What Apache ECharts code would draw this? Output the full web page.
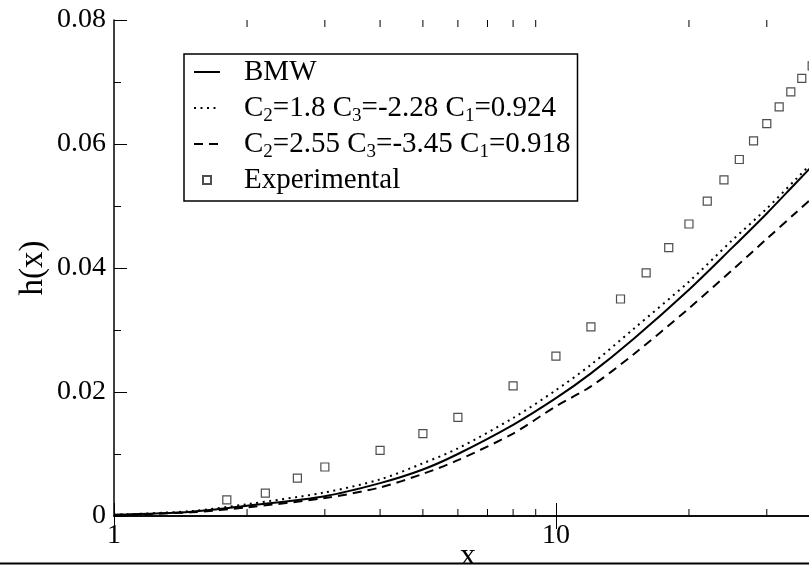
<!DOCTYPE html>
<html>
<head>
<meta charset="utf-8">
<script src="https://cdn.jsdelivr.net/npm/echarts@6/dist/echarts.min.js"></script>
<style>
  html, body { margin: 0; padding: 0; background: #fff; overflow: hidden; }
  #main { width: 840px; height: 566px; }
</style>
</head>
<body>
<div id="main"></div>
<script>
// curve abscissae and the three model curves
var curveX = [1, 1.5, 2, 3, 4, 5, 6, 8, 10, 12, 15, 20, 25, 30, 35, 40];
var bmw = [0.0002, 0.0007, 0.00166, 0.0032, 0.0053, 0.0075, 0.0100, 0.0147, 0.0190, 0.0230, 0.0286, 0.0365, 0.0432, 0.0488, 0.0538, 0.0581];
var fitA = [0.0002, 0.0008, 0.0019, 0.0038, 0.0059, 0.0085, 0.0109, 0.0158, 0.0203, 0.0244, 0.0302, 0.0378, 0.0444, 0.0496, 0.0544, 0.0586];
var fitB = [0.00015, 0.0006, 0.0014, 0.0029, 0.0046, 0.0068, 0.0090, 0.0133, 0.0177, 0.0209, 0.0261, 0.0335, 0.0396, 0.0447, 0.0490, 0.0527];

// experimental points
var expX = [1.8, 2.2, 2.6, 3, 4, 5, 6, 8, 10, 12, 14, 16, 18, 20, 22, 24, 26, 28, 30, 32, 34, 36, 38];
var expY = [0.0026, 0.0037, 0.0061, 0.0079, 0.0106, 0.0133, 0.0159, 0.0210, 0.0258, 0.0305, 0.0350, 0.0392, 0.0433, 0.0471, 0.0508, 0.0542, 0.0575, 0.0605, 0.0633, 0.0660, 0.0684, 0.0706, 0.0726];

// minor ticks of the log x axis
var minorX = [2, 3, 4, 5, 6, 7, 8, 9, 20, 30];

var names = ['BMW', 'C2=1.8 C3=-2.28 C1=0.924', 'C2=2.55 C3=-3.45 C1=0.918', 'Experimental'];

var FONT = 'Liberation Serif';

function pairs(xs, ys) {
  return xs.map(function (x, i) { return [x, ys[i]]; });
}

var chart = echarts.init(document.getElementById('main'));

var xBase = {
  type: 'log',
  logBase: 10,
  min: 1,
  max: 40,
  axisLine: { lineStyle: { color: '#000', width: 1.5 } },
  axisTick: { inside: true, length: 13, lineStyle: { color: '#000', width: 1 } },
  splitLine: { show: false }
};
var yBase = {
  type: 'value',
  min: 0,
  max: 0.08,
  interval: 0.02,
  axisLine: { show: true, lineStyle: { color: '#000', width: 1.5 } },
  axisTick: { show: true, inside: true, length: 13, lineStyle: { color: '#000', width: 1 } },
  minorTick: { show: true, splitNumber: 2, length: 7, lineStyle: { color: '#000', width: 1 } },
  splitLine: { show: false }
};

var noDot = { opacity: 0 };

chart.setOption({
  animation: false,
  backgroundColor: '#fff',
  grid: { left: 114, right: 18, top: 20, bottom: 50, outerBoundsMode: 'none', containLabel: false },
  xAxis: [
    Object.assign({}, xBase, {
      position: 'bottom',
      name: 'x',
      nameLocation: 'middle',
      nameGap: 25,
      nameMoveOverlap: false,
      nameTextStyle: { fontFamily: FONT, fontSize: 32, color: '#000' },
      axisLabel: { fontFamily: FONT, fontSize: 28, color: '#000', margin: 6, showMaxLabel: false }
    }),
    Object.assign({}, xBase, { position: 'top', axisLabel: { show: false } })
  ],
  yAxis: [
    Object.assign({}, yBase, {
      position: 'left',
      name: 'h(x)',
      nameLocation: 'middle',
      nameGap: 64,
      nameMoveOverlap: false,
      nameTextStyle: { fontFamily: FONT, fontSize: 33, color: '#000' },
      axisLabel: { fontFamily: FONT, fontSize: 28, color: '#000', margin: 8 }
    }),
    Object.assign({}, yBase, { position: 'right', axisLabel: { show: false } })
  ],
  legend: {
    data: [
      { name: names[0], itemStyle: noDot },
      { name: names[1], itemStyle: noDot },
      { name: names[2], itemStyle: noDot },
      { name: names[3], icon: 'path://M0 0H10V10H0Z' }
    ],
    orient: 'vertical',
    left: 184,
    top: 54,
    padding: [0, 7, 3, 9],
    itemGap: 0,
    itemWidth: 26,
    itemHeight: 8,
    backgroundColor: '#fff',
    borderColor: '#000',
    borderWidth: 1.5,
    borderRadius: 0,
    selectedMode: false,
    formatter: function (name) {
      return name.replace(/C(\d)/g, 'C{s|$1}');
    },
    textStyle: {
      fontFamily: FONT,
      fontSize: 29,
      lineHeight: 36,
      color: '#000',
      padding: [0, 0, 0, 19],
      rich: {
        s: { fontFamily: FONT, fontSize: 19, lineHeight: 19, verticalAlign: 'bottom', color: '#000' }
      }
    }
  },
  series: [
    {
      name: names[0],
      type: 'line',
      data: pairs(curveX, bmw),
      smooth: 0.3,
      symbol: 'none',
      lineStyle: { color: '#000', width: 2 },
      itemStyle: { color: '#000' }
    },
    {
      name: names[1],
      type: 'line',
      data: pairs(curveX, fitA),
      smooth: 0.3,
      symbol: 'none',
      lineStyle: { color: '#000', width: 2, type: [2, 4.5] },
      itemStyle: { color: '#000' }
    },
    {
      name: names[2],
      type: 'line',
      data: pairs(curveX, fitB),
      smooth: 0.3,
      symbol: 'none',
      lineStyle: { color: '#000', width: 2, type: [9, 6] },
      itemStyle: { color: '#000' }
    },
    {
      name: names[3],
      type: 'scatter',
      data: pairs(expX, expY),
      symbol: 'rect',
      symbolSize: 8,
      itemStyle: { color: '#fff', borderColor: '#222', borderWidth: 1.2 }
    },
    {
      // minor ticks of the log axes, placed through the axis scale
      type: 'custom',
      silent: true,
      data: minorX.map(function (x) { return [x, 0]; }),
      renderItem: function (params, api) {
        var b = api.coord([api.value(0), 0]);
        var t = api.coord([api.value(0), 0.08]);
        var st = { stroke: '#000', lineWidth: 1 };
        return {
          type: 'group',
          children: [
            { type: 'line', shape: { x1: b[0], y1: b[1], x2: b[0], y2: b[1] - 7 }, style: st },
            { type: 'line', shape: { x1: t[0], y1: t[1], x2: t[0], y2: t[1] + 7 }, style: st }
          ]
        };
      }
    }
  ],
  graphic: [
    { type: 'rect', z: 100, shape: { x: 0, y: 564, width: 840, height: 4 }, style: { fill: '#fff' } },
    { type: 'line', z: 101, shape: { x1: 0, y1: 563.5, x2: 840, y2: 563.5 }, style: { stroke: '#000', lineWidth: 2 } }
  ]
});
</script>
</body>
</html>
